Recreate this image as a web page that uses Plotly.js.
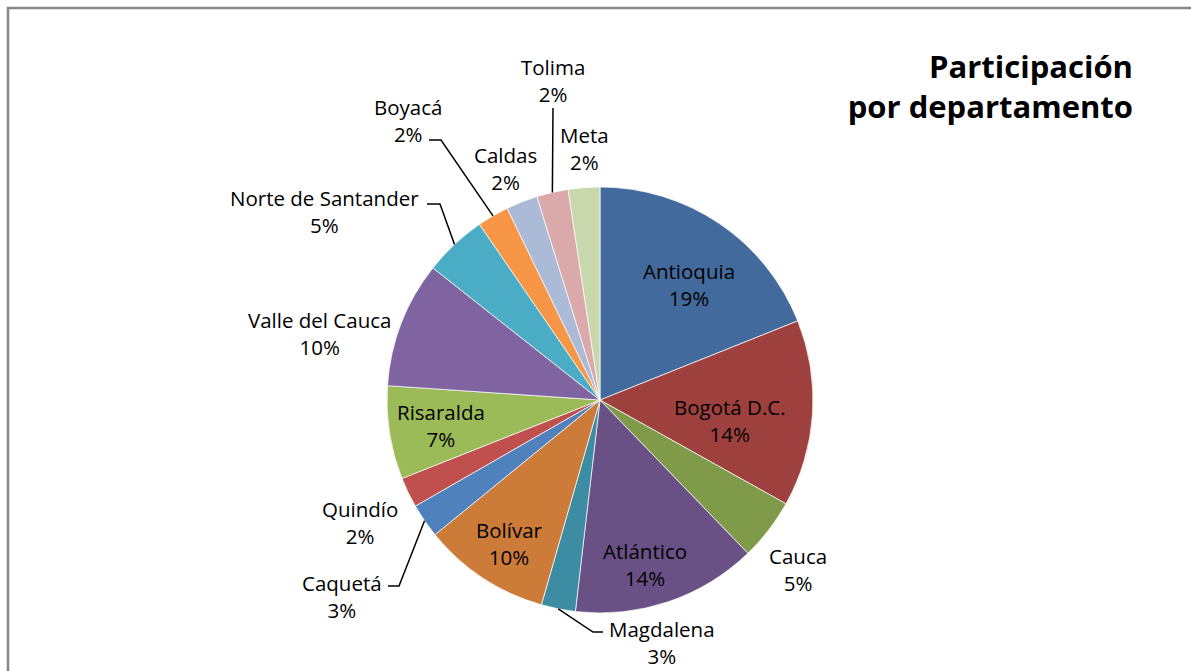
<!DOCTYPE html>
<html>
<head>
<meta charset="utf-8">
<script src="https://cdn.plot.ly/plotly-3.0.1.min.js"></script>
<style>html,body{margin:0;padding:0;background:#fff;}#chart{width:1191px;height:671px;}</style>
</head>
<body>
<div id="chart"></div>
<script>
// ---- data ----
const departamentos = ["Antioquia","Bogotá D.C.","Cauca","Atlántico","Magdalena","Bolívar","Caquetá","Quindío","Risaralda","Valle del Cauca","Norte de Santander","Boyacá","Caldas","Tolima","Meta"];
const participacion = [19.0, 14.2, 4.7, 14.1, 2.6, 9.7, 2.6, 2.3, 7.1, 9.6, 4.8, 2.4, 2.4, 2.4, 2.4];
const colores = ["#436A9C","#9E413E","#7F9A48","#695185","#3C8DA3","#CC7B38","#4F81BD","#C0504D","#9BBB59","#8064A2","#4BACC6","#F79646","#AABAD7","#D9AAA9","#C9D7AC"];
const tituloTexto = "Participación<br>por departamento";

// ---- layout helpers (pixel positions of labels, not data) ----
const W = 1191, H = 671;
const CX = 600, CY = 400, R = 213;
const labelPos = [[689,284],[730,420],[798,569],[645,564],[662,642],[509,543],[342,596],[360,522],[441,425],[319,333],[324,211],[408,121],[505,168],[553,80],[584,148]];
// leader-line elbow points (label side)
const leaders = {
  4: [[603,632],[593,632]],
  6: [[388,586],[399,586]],
  10: [[427,204],[440,204]],
  11: [[429,140],[441,140]],
  13: [[553,108]]
};

const px = x => x / W;
const py = y => 1 - y / H;

const total = participacion.reduce((a,b)=>a+b,0);
let cum = 0;
const midAngles = participacion.map(v => { const m = (cum + v/2)/total*2*Math.PI; cum += v; return m; });

const annotations = departamentos.map((d,i) => ({
  x: px(labelPos[i][0]), y: py(labelPos[i][1]), xref:'paper', yref:'paper',
  xanchor:'center', yanchor:'middle', showarrow:false, align:'center',
  text: d + '<br>' + Math.round(participacion[i]/total*100) + '%',
  font:{family:'Open Sans, sans-serif', size:20.5, color:'#000'}
}));

const shapes = [{
  type:'rect', xref:'paper', yref:'paper',
  x0: px(8), y0: py(8), x1: px(1220), y1: py(700),
  line:{color:'#868686', width:2.5}, fillcolor:'rgba(0,0,0,0)', layer:'below'
}];
Object.keys(leaders).forEach(k => {
  const i = +k;
  const a = midAngles[i];
  const ex = CX + R*Math.sin(a), ey = CY - R*Math.cos(a);
  const pts = leaders[k].concat([[ex,ey]]);
  const path = pts.map((p,j) => (j? 'L':'M') + px(p[0]) + ',' + py(p[1])).join(' ');
  shapes.push({type:'path', xref:'paper', yref:'paper', path:path, line:{color:'#000', width:1.5}});
});

const trace = {
  type:'pie', labels:departamentos, values:participacion, sort:false,
  direction:'clockwise', rotation:0, textinfo:'none', hoverinfo:'label+percent',
  marker:{colors:colores, line:{color:'rgba(255,255,255,0.7)', width:1}},
  domain:{x:[px(CX-R), px(CX+R)], y:[py(CY+R), py(CY-R)]},
  showlegend:false
};

const layout = {
  width:W, height:H, margin:{l:0,r:0,t:0,b:0},
  paper_bgcolor:'#fff', plot_bgcolor:'#fff', showlegend:false,
  title:{text:tituloTexto, x:1133/W, xanchor:'right', xref:'paper', y:1-78/H, yanchor:'top', yref:'container',
         font:{family:'Open Sans, sans-serif', size:31, color:'#000', weight:'bold'}},
  annotations:annotations, shapes:shapes
};

Plotly.newPlot('chart',[trace],layout,{displayModeBar:false, staticPlot:true});
</script>
</body>
</html>
